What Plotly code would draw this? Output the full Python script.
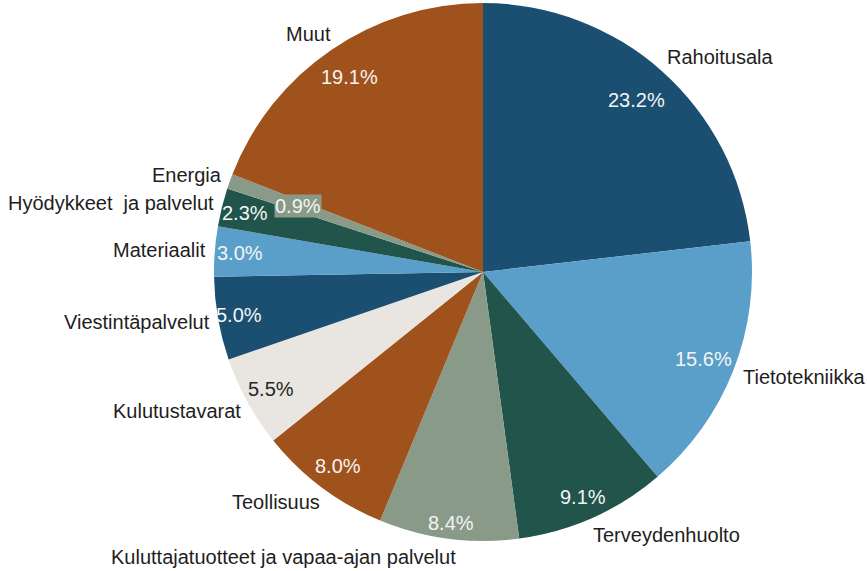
import math
import plotly.graph_objects as go

# ---- data ----
categories = [
    "Rahoitusala", "Tietotekniikka", "Terveydenhuolto",
    "Kuluttajatuotteet ja vapaa-ajan palvelut", "Teollisuus", "Kulutustavarat",
    "Viestintäpalvelut", "Materiaalit", "Hyödykkeet\u00a0 ja palvelut", "Energia", "Muut",
]
shares = [23.2, 15.6, 9.1, 8.4, 8.0, 5.5, 5.0, 3.0, 2.3, 0.9, 19.1]

# ---- style ----
DARK_BLUE = "#1b4f72"
LIGHT_BLUE = "#5a9fc9"
DARK_GREEN = "#21544a"
GREY_GREEN = "#8a9a88"
BROWN = "#a0521c"
BEIGE = "#e9e5e0"
colors = [DARK_BLUE, LIGHT_BLUE, DARK_GREEN, GREY_GREEN, BROWN, BEIGE,
          DARK_BLUE, LIGHT_BLUE, DARK_GREEN, GREY_GREEN, BROWN]
pct_font_colors = ["#f4f4f4"] * 11
pct_font_colors[5] = "#262626"
pct_radius = [0.857, 0.88, 0.915, 0.94, 0.90, 0.90, 0.92, 0.905, 0.91, 0.73, 0.88]

W, H = 867, 571
CX, CY, R = 483, 272, 269
FONT = "Liberation Sans, Arial, sans-serif"
FS = 20

fig = go.Figure(go.Pie(
    labels=categories, values=shares, sort=False, direction="clockwise",
    rotation=0, marker=dict(colors=colors, line=dict(width=0)),
    textinfo="none", hoverinfo="label+percent", showlegend=False,
    domain=dict(x=[(CX - R) / W, (CX + R) / W], y=[(H - CY - R) / H, (H - CY + R) / H]),
))

total = sum(shares)
cum = 0.0
annotations = []
for i, (name, v) in enumerate(zip(categories, shares)):
    mid = (cum + v / 2) / total * 2 * math.pi
    cum += v
    dx, dy = math.sin(mid), -math.cos(mid)
    # category name outside
    px = CX + 1.07 * R * dx
    py = CY + 1.07 * R * dy
    right = dx > 0
    px += -10 if right else 12
    annotations.append(dict(
        x=px / W, y=1 - py / H, xref="paper", yref="paper", text=name,
        showarrow=False, xanchor="left" if right else "right", yanchor="middle",
        font=dict(family=FONT, size=FS, color="#1e1e1e"),
    ))
    # percentage inside
    qx = CX + pct_radius[i] * R * dx
    qy = CY + pct_radius[i] * R * dy
    ann = dict(
        x=qx / W, y=1 - qy / H, xref="paper", yref="paper", text=f"{v:.1f}%",
        showarrow=False, xanchor="center", yanchor="middle",
        font=dict(family=FONT, size=FS, color=pct_font_colors[i]),
    )
    if v < 1:
        ann.update(bgcolor=colors[i], borderpad=0)
    annotations.append(ann)

fig.update_layout(
    width=W, height=H, margin=dict(l=0, r=0, t=0, b=0),
    paper_bgcolor="white", plot_bgcolor="white",
    annotations=annotations,
)
fig.write_html("out.html", config={"displayModeBar": False},
               post_script="document.body.style.margin='0px';")
